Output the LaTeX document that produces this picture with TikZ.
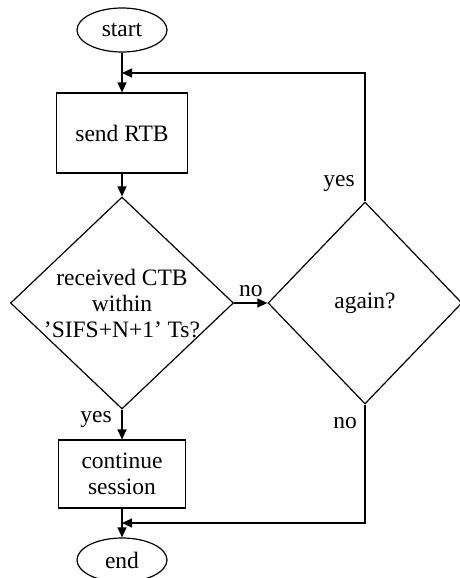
\documentclass[tikz,border=0pt]{standalone}
\usepackage{fontspec}
\setmainfont{Liberation Serif}
\usetikzlibrary{shapes.geometric,arrows.meta}

\tikzset{
  terminal/.style={draw, ellipse, line width=1.2pt, inner sep=0pt, minimum width=90pt, minimum height=44pt},
  process/.style={draw, rectangle, line width=1.2pt, align=center, inner sep=0pt},
  decision/.style={draw, diamond, line width=1.2pt, inner sep=0pt},
  flow/.style={line width=1.2pt, -{Triangle[length=10pt,width=9pt]}},
  wire/.style={line width=1.2pt},
}

\begin{document}
\begin{tikzpicture}[x=1pt, y=-1pt, font=\fontsize{23.5}{26}\selectfont]
	\useasboundingbox (0,0) rectangle (459,578);
	% Specify the main column:
	\node[terminal] (start) at (122,30) {start};
	\node[process, minimum width=131pt, minimum height=80pt] (send) at (122,133) {send RTB};
	\node[decision, minimum width=223pt, minimum height=212pt] (recv) at (122,303) {};
	\node[align=center] (recvtext) at (122,304) {received CTB\\within\\'SIFS+N+1' Ts?};
	\node[process, minimum width=127pt, minimum height=68pt] (cont) at (122,474) {continue\\session};
	\node[terminal] (finish) at (122,560) {end};
	% Specify the retry decision:
	\node[decision, minimum width=194pt, minimum height=202pt] (again) at (365,303) {};
	\node (againtext) at (365,303) {again?};
	% Specify the joining points:
	\coordinate (J1) at (122,73);
	\coordinate (J2) at (122,523);
	% Draw the connectors:
	\draw[flow] (start) -- (send);
	\draw[flow] (send) -- (recv);
	\draw[flow] (recv.east) -- node[above=2pt] (lno) {no} (again.west);
	\draw[flow] (recv.south) -- (cont.north);
	\draw[flow] (cont) -- (finish);
	\draw[flow] (again.north) |- (J1);
	\draw[flow] (again.south) |- (J2);
	% Draw the branch labels:
	\node (lyes1) at (339,183) {yes};
	\node (lyes2) at (96,419) {yes};
	\node (lno2) at (345,423) {no};
\end{tikzpicture}
\end{document}
